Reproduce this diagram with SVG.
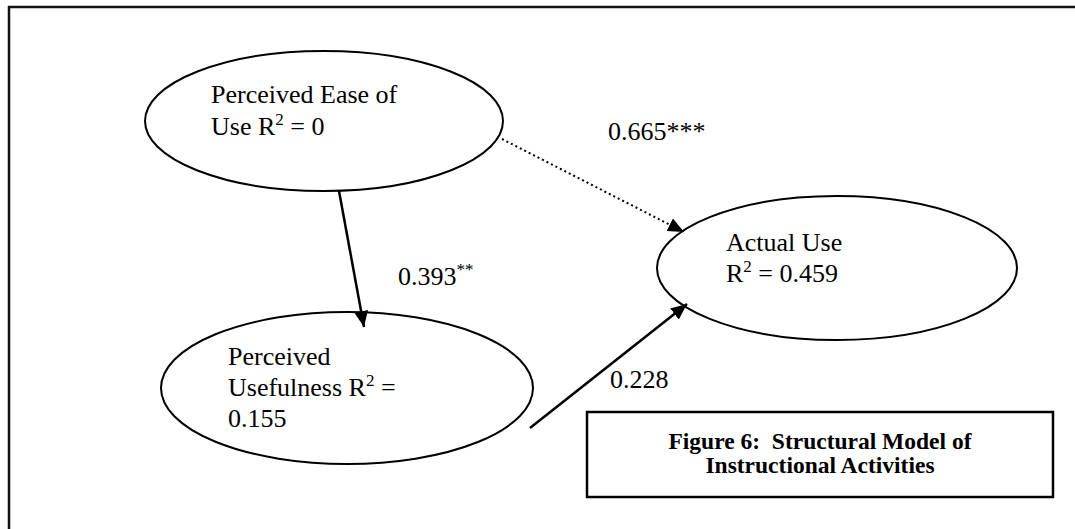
<svg xmlns="http://www.w3.org/2000/svg" width="1075" height="529" viewBox="0 0 1075 529">
<defs>
<style>
.t{font-family:"Liberation Serif","Times New Roman",serif;font-size:26px;fill:#000}
.s{font-size:17px}
.b{font-family:"Liberation Serif","Times New Roman",serif;font-size:23.5px;font-weight:bold;fill:#000}
.n{fill:#fff;stroke:#000;stroke-width:2}
.c{fill:none;stroke:#000;stroke-width:2.5}
.d{fill:none;stroke:#000;stroke-width:2;stroke-dasharray:2 3}
</style>
<marker id="a" viewBox="0 0 16 16" refX="16" refY="8" markerWidth="16" markerHeight="16" orient="auto" markerUnits="userSpaceOnUse">
<path d="M0,1 L16,8 L0,15 Z" fill="#000"/>
</marker>
</defs>
<rect width="1075" height="529" fill="#fff"/>
<path d="M9,529 V7 H1075" fill="none" stroke="#111" stroke-width="2.5"/>
<g id="node-peou">
<ellipse class="n" cx="324" cy="121" rx="179" ry="70"/>
<text class="t" x="211" y="103">Perceived Ease of</text>
<text class="t" x="211" y="135">Use R<tspan class="s" dy="-10">2</tspan><tspan dy="10"> = 0</tspan></text>
</g>
<g id="node-pu">
<ellipse class="n" cx="347" cy="388" rx="186" ry="76"/>
<text class="t" x="228" y="365">Perceived</text>
<text class="t" x="228" y="396">Usefulness R<tspan class="s" dy="-10">2</tspan><tspan dy="10"> =</tspan></text>
<text class="t" x="228" y="427">0.155</text>
</g>
<g id="node-au">
<ellipse class="n" cx="837" cy="268" rx="180" ry="72"/>
<text class="t" x="726" y="251">Actual Use</text>
<text class="t" x="726" y="282">R<tspan class="s" dy="-10">2</tspan><tspan dy="10"> = 0.459</tspan></text>
</g>
<g id="connectors">
<line class="c" x1="339" y1="191" x2="364" y2="327" marker-end="url(#a)"/>
<line class="d" x1="502" y1="139" x2="684" y2="232" marker-end="url(#a)"/>
<line class="c" x1="530" y1="428" x2="687" y2="304" marker-end="url(#a)"/>
</g>
<g id="labels">
<text class="t" x="608" y="140">0.665***</text>
<text class="t" x="398" y="285">0.393<tspan class="s" dy="-10">**</tspan></text>
<text class="t" x="610" y="388">0.228</text>
</g>
<g id="caption">
<rect x="587" y="412" width="466" height="85" fill="#fff" stroke="#000" stroke-width="2.5"/>
<text class="b" x="820" y="449" text-anchor="middle" xml:space="preserve">Figure 6:  Structural Model of</text>
<text class="b" x="820" y="473" text-anchor="middle">Instructional Activities</text>
</g>
</svg>
